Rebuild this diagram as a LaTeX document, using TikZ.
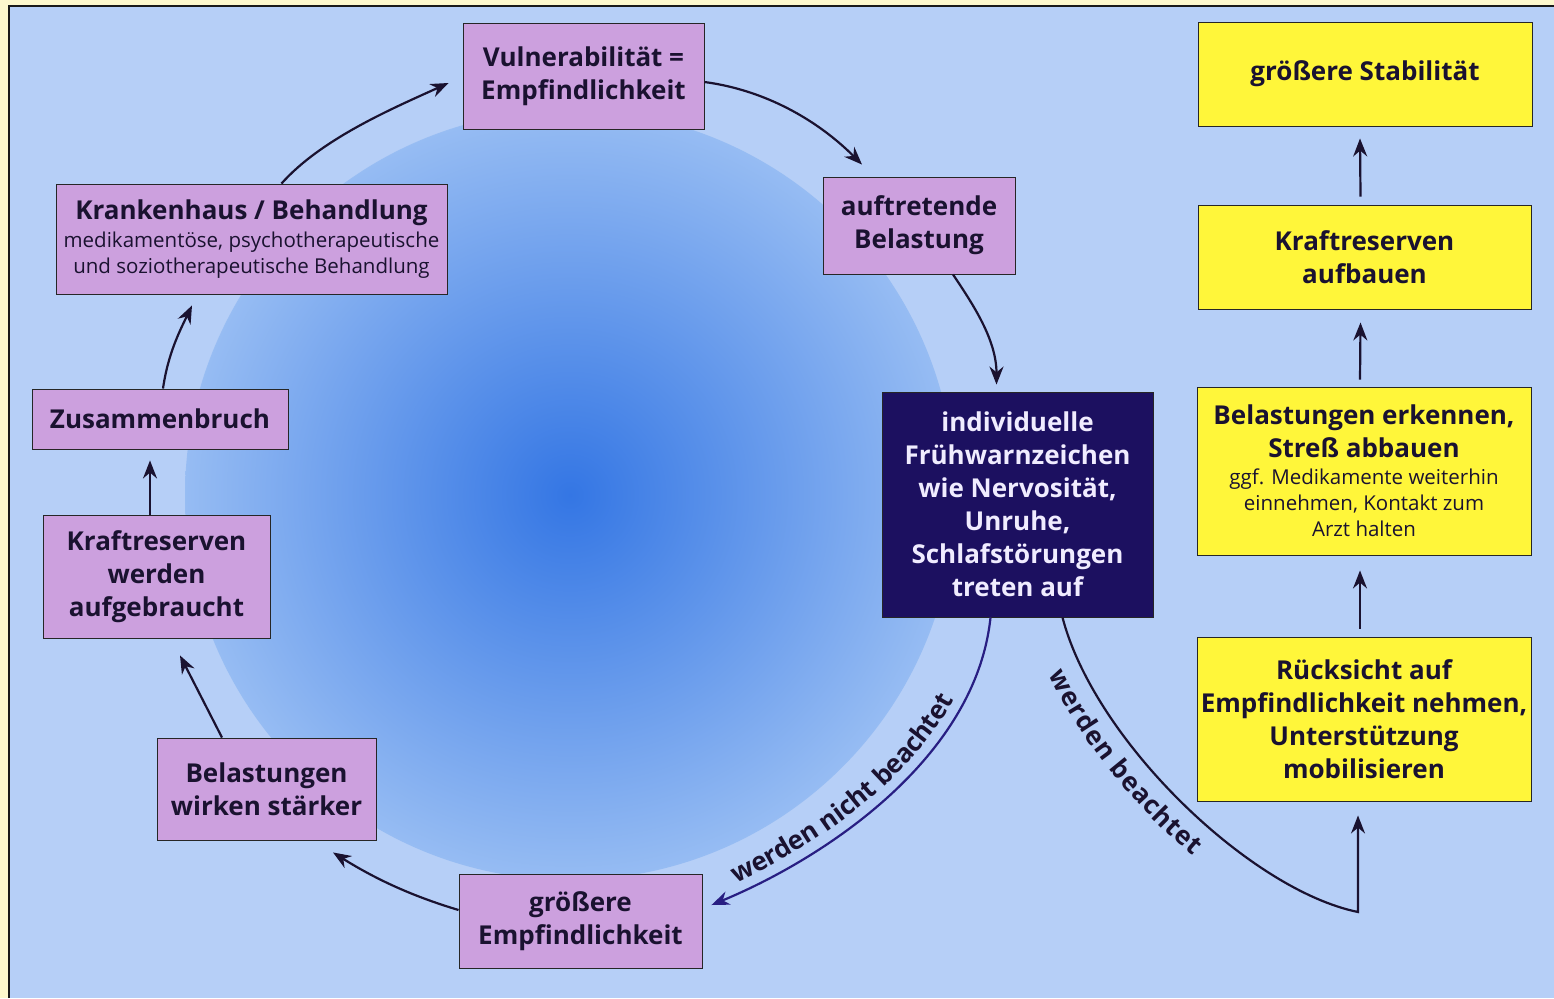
\documentclass[tikz,border=0pt]{standalone}
\usepackage{fontspec}
\setmainfont{Open Sans}
\usepackage{tikz}
\usetikzlibrary{arrows.meta}
\usetikzlibrary{decorations.text}

\definecolor{rahmengelb}{RGB}{253,248,205}
\definecolor{hgblau}{RGB}{182,207,247}
\definecolor{fleckmitte}{RGB}{52,118,228}
\definecolor{fleckrand}{RGB}{150,188,243}
\definecolor{boxlila}{RGB}{204,160,222}
\definecolor{boxgelb}{RGB}{255,246,58}
\definecolor{boxnavy}{RGB}{28,16,96}
\definecolor{pfeilnavy}{RGB}{40,30,130}
\definecolor{textdunkel}{RGB}{26,18,48}
\definecolor{textweiss}{RGB}{240,236,255}

\pgfdeclareradialshading{fleck}{\pgfpoint{0bp}{0bp}}{color(0bp)=(fleckmitte); color(25bp)=(fleckrand); color(25.3bp)=(hgblau); color(50bp)=(hgblau)}

\newcommand\fett{\bfseries\fontsize{26}{33}\selectfont}
\newcommand\klein{\mdseries\fontsize{20.5}{26}\selectfont}

\begin{document}
\begin{tikzpicture}[x=1pt,y=-1pt,
	kasten/.style={draw=black!85,line width=0.9pt,align=center,inner sep=0pt,text=textdunkel,font=\fett},
	mass/.style 2 args={minimum width=#1pt,minimum height=#2pt},
	lila/.style={kasten,fill=boxlila},
	gelb/.style={kasten,fill=boxgelb},
	pfeil/.style={line width=2.2pt,draw=textdunkel,-{Stealth[length=18pt,width=14pt]}},
	schrift/.style={decorate,decoration={text along path,#1}}]
\useasboundingbox (0,0) rectangle (1554,998);
\fill[rahmengelb] (0,0) rectangle (1554,998);
\fill[hgblau] (9,6) rectangle (1554,998);
\shade[shading=fleck] (570,495) circle (385);
\draw[line width=2pt,black!90] (9,998) -- (9,6) -- (1554,6);

\node[lila,mass={241}{106}] (vuln) at (583.5,76) {Vulnerabilität =\\Empfindlichkeit};
\node[lila,mass={192}{97}] (auftr) at (919,225.5) {auftretende\\Belastung};
\node[kasten,fill=boxnavy,text=textweiss,mass={271}{225}] (fruh) at (1017.5,504.5) {individuelle\\Frühwarnzeichen\\wie Nervosität,\\Unruhe,\\Schlafstörungen\\treten auf};
\node[lila,mass={243}{94}] (groess) at (580.5,921) {größere\\Empfindlichkeit};
\node[lila,mass={219}{102}] (belst) at (266.5,789) {Belastungen\\wirken stärker};
\node[lila,mass={227}{123}] (kraftauf) at (156.5,576.5) {Kraftreserven\\werden\\aufgebraucht};
\node[lila,mass={256}{60}] (zus) at (160,419) {Zusammenbruch};
\node[lila,mass={391}{110}] (krank) at (251.5,239) {Krankenhaus / Behandlung\\[-5pt]\klein medikamentöse, psychotherapeutische\\[-7pt]\klein und soziotherapeutische Behandlung};

\node[gelb,mass={334}{104}] (stab) at (1365,74) {größere Stabilität};
\node[gelb,mass={333}{104}] (aufbau) at (1364.5,257) {Kraftreserven\\aufbauen};
\node[gelb,mass={334}{168}] (erkenn) at (1364,471) {Belastungen erkennen,\\Streß abbauen\\[-6pt]\klein ggf. Medikamente weiterhin\\[-7pt]\klein einnehmen, Kontakt zum\\[-7pt]\klein Arzt halten};
\node[gelb,mass={334}{164}] (rueck) at (1364,719) {Rücksicht auf\\Empfindlichkeit nehmen,\\Unterstützung\\mobilisieren};
\coordinate (knick) at (1358,912);

\draw[pfeil] ([xshift=30pt]krank.north) .. controls +(40,-45) and +(-55,25) .. ([xshift=-14pt,yshift=-7pt]vuln.west);
\draw[pfeil] ([yshift=-6pt]vuln.east) .. controls +(60,8) and +(-45,-45) .. ([xshift=-57pt,yshift=12pt]auftr.north);
\draw[pfeil] ([xshift=34pt]auftr.south) .. controls +(20,30) and +(0,-45) .. ([xshift=-21pt,yshift=7pt]fruh.north);
\draw[pfeil,draw=pfeilnavy] ([xshift=-27pt]fruh.south) .. controls +(-15,143) and +(109,-45) .. ([xshift=9pt,yshift=16pt]groess.east);
\draw[pfeil] ([xshift=45pt]fruh.south) .. controls +(32,123) and +(-108,-22) .. (knick) -- ([xshift=-6pt,yshift=-14pt]rueck.south);
\draw[pfeil] ([yshift=11pt]groess.west) .. controls +(-50,-15) and +(40,25) .. ([xshift=66.5pt,yshift=-12pt]belst.south);
\draw[pfeil] ([xshift=-44.5pt]belst.north) -- ([xshift=23.5pt,yshift=-17pt]kraftauf.south);
\draw[pfeil] ([xshift=-6.5pt]kraftauf.north) -- ([xshift=-10pt,yshift=-11pt]zus.south);
\draw[pfeil] ([xshift=3pt]zus.north) .. controls +(5,-35) and +(-12,25) .. ([xshift=-59.5pt,yshift=-11pt]krank.south);

\path
([xshift=-4pt,yshift=8pt]rueck.north) edge[pfeil] ([xshift=-4pt,yshift=-15pt]erkenn.south)
([xshift=-4pt,yshift=7pt]erkenn.north) edge[pfeil] ([xshift=-4pt,yshift=-13pt]aufbau.south)
([xshift=-4pt,yshift=8pt]aufbau.north) edge[pfeil] ([xshift=-5pt,yshift=-12pt]stab.south);

\path[schrift={text align={left,left indent=32pt},raise=10pt,text color=textdunkel,text={|\fett|werden nicht beachtet}}] ([xshift=9pt,yshift=16pt]groess.east) .. controls +(109,-45) and +(-15,143) .. ([xshift=-27pt]fruh.south);
\path[schrift={text align={left,left indent=45pt},raise=-32pt,text color=textdunkel,text={|\fett|werden beachtet}}] ([xshift=45pt]fruh.south) .. controls +(32,123) and +(-108,-22) .. (knick);
\end{tikzpicture}
\end{document}
